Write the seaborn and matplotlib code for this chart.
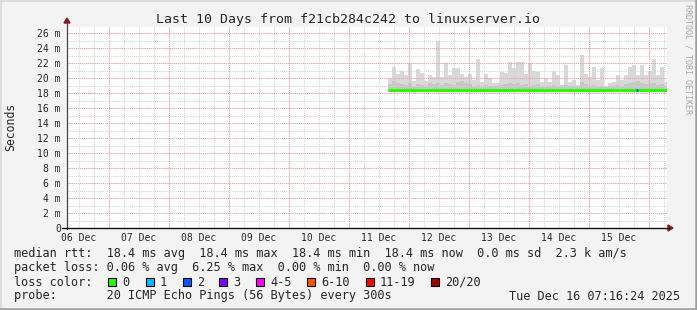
import numpy as np
import pandas as pd
import matplotlib
matplotlib.use("Agg")
import matplotlib.pyplot as plt
from matplotlib.lines import Line2D
from matplotlib.patches import Rectangle, Polygon
import seaborn as sns

# ---------------- data ----------------
title = "Last 10 Days from f21cb284c242 to linuxserver.io"
start = pd.Timestamp("2025-12-06 07:16:24")
end = pd.Timestamp("2025-12-16 07:16:24")
day_labels = ["06 Dec", "07 Dec", "08 Dec", "09 Dec", "10 Dec",
              "11 Dec", "12 Dec", "13 Dec", "14 Dec", "15 Dec"]
y_ticks = [0, 2, 4, 6, 8, 10, 12, 14, 16, 18, 20, 22, 24, 26]

smoke_start = pd.Timestamp("2025-12-11 15:40")
smoke_step_min = 96
# upper edge of the smoke (ms) per column
smoke_hi = [20.0, 21.5, 20.5, 20.9, 20.4, 22.0, 19.6, 21.2, 20.7, 19.6,
            20.4, 20.1, 24.9, 20.1, 22.0, 20.4, 21.3, 21.4, 20.6, 20.2,
            20.6, 19.7, 22.5, 19.5, 20.5, 20.0, 19.3, 19.3, 20.8, 20.7,
            22.2, 21.3, 22.2, 22.1, 20.5, 22.0, 21.0, 20.8, 19.5, 20.0,
            19.5, 21.0, 20.4, 19.1, 21.7, 19.5, 19.7, 19.1, 23.1, 20.5,
            20.1, 21.5, 19.7, 21.3, 18.9, 19.3, 19.5, 20.4, 19.7, 20.4,
            21.5, 21.8, 20.4, 21.8, 20.4, 20.9, 22.5, 20.4, 21.5, 19.5]
# denser (darker) part of the smoke (ms) per column
smoke_mid = [19.2, 19.6, 19.4, 19.2, 19.1, 19.3, 19.0, 19.2, 19.1, 19.0,
             19.3, 19.2, 19.4, 19.1, 19.3, 19.2, 19.1, 19.5, 19.6, 19.4,
             19.2, 19.0, 19.1, 18.9, 19.1, 19.0, 18.9, 18.9, 19.1, 19.2,
             19.3, 19.2, 19.4, 19.1, 19.2, 19.0, 19.1, 19.2, 19.0, 19.0,
             18.9, 19.1, 19.0, 18.9, 19.1, 19.0, 19.0, 18.9, 19.5, 19.2,
             19.0, 19.1, 18.9, 19.0, 18.8, 18.9, 19.0, 19.1, 19.0, 19.2,
             19.4, 19.5, 19.6, 19.3, 19.2, 19.3, 19.4, 19.1, 19.2, 19.0]
smoke_floor = 18.2

median_times = ["2025-12-11 15:40", "2025-12-16 07:16:24"]
median_rtt = [18.4, 18.4]
loss_times = ["2025-12-15 18:52", "2025-12-15 19:40"]
loss_rtt = [18.4, 18.4]

loss_labels = ["0", "1", "2", "3", "4-5", "6-10", "11-19", "20/20"]
loss_colors = ["#26ff00", "#00b8ff", "#0059ff", "#7e00ff",
               "#ff00ff", "#ff5500", "#ff0000", "#a10000"]

legend_rows = [
    "median rtt:  18.4 ms avg  18.4 ms max  18.4 ms min  18.4 ms now  0.0 ms sd  2.3 k am/s",
    "packet loss: 0.06 % avg  6.25 % max  0.00 % min  0.00 % now",
]
probe_text = "probe:       20 ICMP Echo Pings (56 Bytes) every 300s"
stamp_text = "Tue Dec 16 07:16:24 2025"

# ---------------- style ----------------
sns.set_style("white")
plt.rcParams["font.family"] = ["DejaVu Sans Mono"]

W, H = 697, 310
fig = plt.figure(figsize=(W / 100, H / 100), dpi=100, facecolor="#f3f3f3")


def fx(x):
    return x / W


def fy(y):
    return 1 - y / H


L, R, T, B = 67, 667, 27, 228
ax = fig.add_axes([fx(L), fy(B), (R - L) / W, (B - T) / H])
ax.set_facecolor("white")

hours = lambda t: (pd.Timestamp(t) - start) / pd.Timedelta(hours=1)
total_h = hours(end)
ymax = (B - T) / 7.5
ax.set_xlim(0, total_h)
ax.set_ylim(0, ymax)

# smoke
n = len(smoke_hi)
sx = [hours(smoke_start) + i * smoke_step_min / 60 for i in range(n)]
wbar = smoke_step_min / 60
ax.bar(sx, np.array(smoke_hi) - smoke_floor, bottom=smoke_floor, width=wbar,
       align="edge", color="#d9d9d9", linewidth=0, zorder=1)
ax.bar(sx, np.array(smoke_mid) - smoke_floor, bottom=smoke_floor, width=wbar,
       align="edge", color="#c6c6c6", linewidth=0, zorder=1.1)

# grid
first_mid = hours("2025-12-07 00:00")
minor_x = np.arange(first_mid - 12, total_h, 6)
major_x = np.arange(first_mid, total_h, 24)
dash = (0, (1, 1))
for x in minor_x:
    ax.axvline(x, color="#d4d4d4", lw=0.75, ls=dash, zorder=2)
for y in range(1, 27):
    ax.axhline(y, color="#d4d4d4", lw=0.75, ls=dash, zorder=2)
for x in major_x:
    ax.axvline(x, color="#eba3a3", lw=0.75, ls=dash, zorder=2.1)
for y in y_ticks[1:]:
    ax.axhline(y, color="#eba3a3", lw=0.75, ls=dash, zorder=2.1)

# median line
df = pd.DataFrame({"t": [hours(t) for t in median_times], "rtt": median_rtt})
sns.lineplot(data=df, x="t", y="rtt", ax=ax, color=loss_colors[0], lw=2.2,
             zorder=3, solid_capstyle="butt")
dl = pd.DataFrame({"t": [hours(t) for t in loss_times], "rtt": loss_rtt})
sns.lineplot(data=dl, x="t", y="rtt", ax=ax, color=loss_colors[2], lw=2.2,
             zorder=3.1, solid_capstyle="butt")

# axes
for s in ax.spines.values():
    s.set_visible(False)
ax.set_xlabel("")
ax.set_ylabel("")
noon_x = [first_mid - 12 + 24 * k for k in range(len(day_labels))]
ax.set_xticks(noon_x)
ax.set_xticklabels(day_labels, fontsize=7)
ax.set_xticks(minor_x, minor=True)
ax.set_yticks(y_ticks)
ax.set_yticklabels(["0" if v == 0 else f"{v} m" for v in y_ticks], fontsize=7)
ax.tick_params(axis="x", which="major", length=0, pad=3.5)
ax.tick_params(axis="x", which="minor", length=1.5, width=0.7,
               color="#333333", direction="out")
ax.tick_params(axis="y", which="major", length=2, width=0.7, color="#333333",
               pad=2.5)

# axis lines with arrows
fig.add_artist(Line2D([fx(L), fx(L)], [fy(B + 1), fy(T - 4)], color="#444444",
                      lw=0.9))
fig.add_artist(Line2D([fx(L - 5), fx(R + 2)], [fy(B), fy(B)], color="#111111",
                      lw=1.0))
fig.add_artist(Polygon([[fx(L - 3), fy(T - 4)], [fx(L + 3), fy(T - 4)],
                        [fx(L), fy(T - 9)]], closed=True, color="#8b1a1a",
                       transform=fig.transFigure))
fig.add_artist(Polygon([[fx(R + 1), fy(B - 3)], [fx(R + 1), fy(B + 3)],
                        [fx(R + 6), fy(B)]], closed=True, color="#8b1a1a",
                       transform=fig.transFigure))

# title and labels
fig.text(0.5, fy(19), title, ha="center", va="center", fontsize=9.5)
fig.text(fx(11), fy(127), "Seconds", rotation=90, ha="center", va="center",
         fontsize=8.3)
fig.text(fx(688), fy(4), "RRDTOOL / TOBI OETIKER", rotation=270, ha="center",
         va="top", fontsize=6, color="#a8a8a8")

# legend block
fs = 8.55
x0 = 14.5
for yy, s in zip([254, 268], legend_rows):
    fig.text(fx(x0), fy(yy), s, ha="left", va="center", fontsize=fs)
fig.text(fx(x0), fy(296), probe_text, ha="left", va="center", fontsize=fs)
fig.text(fx(680), fy(296), stamp_text, ha="right", va="center", fontsize=fs)

fig.text(fx(x0), fy(282), "loss color:", ha="left", va="center", fontsize=fs)
box_x = [108, 146, 183, 219, 256, 307, 366, 431]
for bx, lab, col in zip(box_x, loss_labels, loss_colors):
    fig.add_artist(Rectangle((fx(bx), fy(286)), 8 / W, 8 / H, facecolor=col,
                             edgecolor="black", lw=0.8,
                             transform=fig.transFigure))
    fig.text(fx(bx + 14), fy(282), lab, ha="left", va="center", fontsize=fs)

# frame shading
fig.add_artist(Line2D([0, 1], [fy(1), fy(1)], color="#dcdcdc", lw=1.5))
fig.add_artist(Line2D([fx(1), fx(1)], [0, 1], color="#dcdcdc", lw=1.5))
fig.add_artist(Line2D([0, 1], [fy(309), fy(309)], color="#9e9e9e", lw=1.8))
fig.add_artist(Line2D([fx(696), fx(696)], [0, 1], color="#9e9e9e", lw=1.8))

fig.savefig("out.png", dpi=100, facecolor=fig.get_facecolor())
